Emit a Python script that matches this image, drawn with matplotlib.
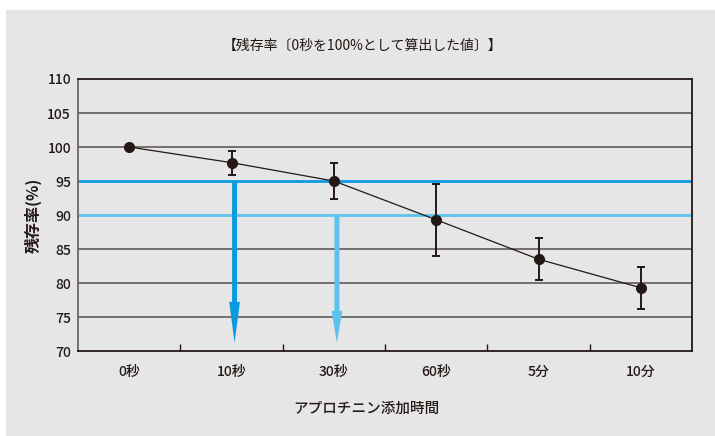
import numpy as np
import matplotlib
matplotlib.use("Agg")
import matplotlib.pyplot as plt
from matplotlib.patches import Rectangle

plt.rcParams["font.family"] = ["Noto Sans CJK JP", "DejaVu Sans"]

categories = ["0秒", "10秒", "30秒", "60秒", "5分", "10分"]
residual = [100.0, 97.7, 95.0, 89.3, 83.5, 79.3]
err = [0.0, 1.75, 2.7, 5.3, 3.1, 3.1]
thresholds = [95, 90]
threshold_colors = ["#0a9ae0", "#5cc3ef"]
arrow_cats = ["10秒", "30秒"]
arrow_heads = [2.95, 2.3]
arrow_tip = 71.2

title = "【残存率〔0秒を100%として算出した値〕】"
xlabel = "アプロチニン添加時間"
ylabel = "残存率(%)"

BG = "#e6e6e6"
INK = "#231815"
GRID = "#6a6666"

fig = plt.figure(figsize=(7.15, 4.36), dpi=100)
fig.patch.set_facecolor("white")
fig.patches.append(Rectangle((6 / 715, 0), 1, (436 - 10) / 436,
                             transform=fig.transFigure, color=BG, zorder=-10))

ax = fig.add_axes([78 / 715, 1 - 351 / 436, (692 - 78) / 715, (351 - 79) / 436])
ax.set_facecolor(BG)

x = np.arange(len(categories)) + 0.5
ax.set_xlim(0, len(categories))
ax.set_ylim(70, 110)

# grid lines
for yv in range(75, 110, 5):
    if yv in thresholds:
        continue
    ax.axhline(yv, color=GRID, lw=1.3, zorder=1)
for t, c in zip(thresholds, threshold_colors):
    ax.axhline(t, color=c, lw=2.0, zorder=2)

# arrows from threshold lines down
for cat, t, c, hl in zip(arrow_cats, thresholds, threshold_colors, arrow_heads):
    xi = categories.index(cat) + 0.53
    style = f"simple,head_length={hl},head_width=0.77,tail_width=0.36"
    ax.annotate("", xy=(xi, arrow_tip), xytext=(xi, t),
                arrowprops=dict(arrowstyle=style, mutation_scale=10, color=c,
                                lw=0, shrinkA=0, shrinkB=0),
                zorder=3)

ax.errorbar(x, residual, yerr=err, color=INK, lw=0.9, marker="o", ms=7,
            mfc=INK, mec=INK, ecolor=INK, elinewidth=1.4, capsize=3,
            capthick=1.4, zorder=5)

ax.set_xticks(x)
ax.set_xticklabels(categories, fontsize=10, color=INK, fontweight="medium")
ax.tick_params(axis="x", which="major", length=0, pad=10)
ax.set_xticks(np.arange(1, len(categories)), minor=True)
ax.tick_params(axis="x", which="minor", direction="in", length=5, width=1.0, color=INK)

ax.set_yticks(range(70, 111, 5))
ax.set_yticklabels([str(v) for v in range(70, 111, 5)], fontsize=10,
                   color=INK, fontweight="medium")
ax.tick_params(axis="y", length=0, pad=5)

for side in ["top", "right", "bottom"]:
    ax.spines[side].set_color(INK)
    ax.spines[side].set_linewidth(1.3)
ax.spines["left"].set_color(GRID)
ax.spines["left"].set_linewidth(1.3)

fig.text(363 / 715, 1 - 46 / 436, title, ha="center", va="center", fontsize=10, color=INK)
fig.text(366 / 715, 1 - 409 / 436, xlabel, ha="center", va="center", fontsize=10.5,
         color=INK, fontweight="medium")
fig.text(33 / 715, 1 - 215 / 436, ylabel, ha="center", va="center", rotation=90,
         fontsize=11.5, color=INK, fontweight="bold")

fig.savefig("out.png", dpi=100, facecolor=fig.get_facecolor())
